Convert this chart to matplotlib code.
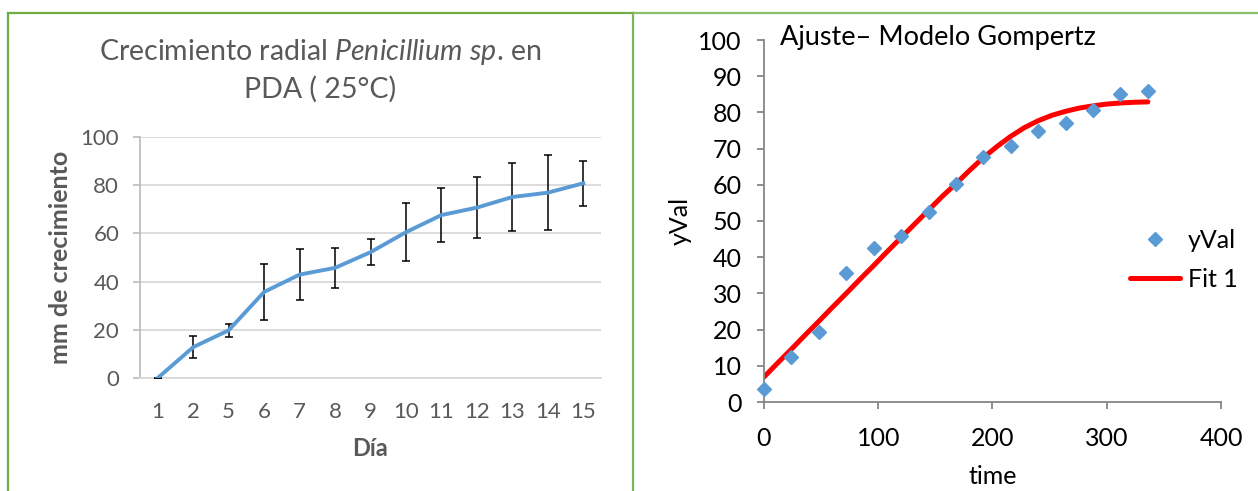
import matplotlib.pyplot as plt
from matplotlib.lines import Line2D

plt.rcParams["font.family"] = ["Lato", "DejaVu Sans"]
plt.rcParams["mathtext.fontset"] = "custom"
plt.rcParams["mathtext.rm"] = "Lato"
plt.rcParams["mathtext.it"] = "Lato:italic"

# radial growth per day (mean and std dev)
dias = ["1", "2", "5", "6", "7", "8", "9", "10", "11", "12", "13", "14", "15"]
crecimiento = [0, 12.8, 19.8, 35.7, 42.9, 45.7, 52.2, 60.5, 67.6, 70.7, 75.1, 76.9, 80.8]
desviacion = [0, 4.6, 2.6, 11.6, 10.6, 8.3, 5.5, 12.0, 11.1, 12.7, 14.2, 15.6, 9.3]

# observed values vs time (h)
time = [0, 24, 48, 72, 96, 120, 144, 168, 192, 216, 240, 264, 288, 312, 336]
yval = [3.7, 12.5, 19.4, 35.7, 42.6, 45.8, 52.4, 60.2, 67.7, 70.7, 75.0, 77.0, 80.8, 85.2, 86.0]

# Gompertz fit curve
fit_time = [0, 12, 24, 36, 48, 60, 72, 84, 96, 108, 120, 132, 144, 156, 168,
            180, 192, 204, 216, 228, 240, 252, 264, 276, 288, 300, 312, 324, 336]
fit_val = [6.9, 10.8, 14.6, 18.5, 22.3, 26.2, 30.0, 33.9, 37.7, 41.6, 45.4, 49.2,
           53.0, 56.8, 60.3, 64.0, 67.5, 70.6, 73.4, 75.8, 77.7, 79.2, 80.3, 81.2,
           81.8, 82.3, 82.6, 82.8, 82.9]

W, H = 1258, 491
GRAY = "#595959"
BLUE = "#5B9BD5"


def box(l, t, r, b):
    # pixel box (from top-left) -> figure fraction rect
    return [l / W, 1 - b / H, (r - l) / W, (b - t) / H]


fig = plt.figure(figsize=(W / 100, H / 100), dpi=100)

# ---- left: radial growth ----
ax1 = fig.add_axes(box(140, 137, 601, 378))
x = range(len(dias))
ax1.errorbar(x, crecimiento, yerr=desviacion, color=BLUE, lw=2.8,
             ecolor="black", elinewidth=1.1, capsize=3, capthick=1.1, zorder=3)
ax1.set_xlim(-0.5, len(dias) - 0.5)
ax1.set_ylim(0, 100)
ax1.set_yticks(range(0, 101, 20))
ax1.set_xticks(list(x))
ax1.set_xticklabels(dias)
ax1.grid(axis="y", color="#D9D9D9", lw=1.3)
ax1.set_axisbelow(True)
for s in ["top", "right"]:
    ax1.spines[s].set_visible(False)
ax1.spines["left"].set_color("#BFBFBF")
ax1.spines["bottom"].set_color("#D9D9D9")
ax1.spines["left"].set_linewidth(1.3)
ax1.spines["bottom"].set_linewidth(1.3)
ax1.tick_params(axis="y", length=5, color="#BFBFBF", width=1.3, pad=10,
                labelsize=16, labelcolor=GRAY)
ax1.tick_params(axis="x", length=0, pad=17, labelsize=16, labelcolor=GRAY)
ax1.set_xlabel("Día", fontsize=17, fontweight="bold", color=GRAY, va="center")
ax1.xaxis.set_label_coords(0.5, (378 - 448) / 241)
ax1.set_ylabel("mm de crecimiento", fontsize=18, fontweight="bold", color=GRAY,
               va="center", ha="center")
ax1.yaxis.set_label_coords((61 - 140) / 461, 0.5)

fig.text(320 / W, 1 - 52 / H, r"Crecimiento radial $\mathit{Penicillium\ sp}$. en",
         ha="center", va="center", fontsize=20.5, color=GRAY)
fig.text(320 / W, 1 - 89 / H, "PDA ( 25°C)", ha="center", va="center",
         fontsize=20.5, color=GRAY)

# ---- right: Gompertz fit ----
ax2 = fig.add_axes(box(764, 40, 1221, 402))
ax2.plot(time, yval, "D", color=BLUE, ms=7.5, ls="none", label="yVal",
         clip_on=False, zorder=3)
ax2.plot(fit_time, fit_val, color="#FF0000", lw=3.6, label="Fit 1",
         solid_capstyle="round", zorder=2)
ax2.set_xlim(0, 400)
ax2.set_ylim(0, 100)
ax2.set_xticks(range(0, 401, 100))
ax2.set_yticks(range(0, 101, 10))
for s in ["top", "right"]:
    ax2.spines[s].set_visible(False)
for s in ["left", "bottom"]:
    ax2.spines[s].set_color("#868686")
    ax2.spines[s].set_linewidth(1.3)
ax2.tick_params(axis="both", length=5, width=1.3, color="#868686",
                labelsize=18, labelcolor="black")
ax2.tick_params(axis="y", pad=11)
ax2.tick_params(axis="x", pad=13)
ax2.set_xlabel("time", fontsize=18, va="center")
ax2.xaxis.set_label_coords(0.5, (402 - 477) / 362)
ax2.set_ylabel("yVal", fontsize=18, va="center", ha="center")
ax2.yaxis.set_label_coords((680 - 764) / 457, 0.5)
ax2.text((780 - 764) / 457, 1 + 2 / 362, "Ajuste– Modelo Gompertz",
         transform=ax2.transAxes, ha="left", va="center", fontsize=19.5)

leg = ax2.legend(loc="center left", bbox_to_anchor=(1130 / W, 1 - 260 / H),
                 bbox_transform=fig.transFigure, frameon=False, fontsize=18,
                 handlelength=2.0, handletextpad=0.3, labelspacing=0.65,
                 borderpad=0, borderaxespad=0)

# ---- green frames ----
fig.add_artist(Line2D([8 / W, 633 / W], [1 - 13 / H] * 2, color="#70AD47", lw=1.6))
fig.add_artist(Line2D([633 / W, 1], [1 - 13 / H] * 2, color="#8CBF6A", lw=1.6))
fig.add_artist(Line2D([8 / W] * 2, [0, 1 - 13 / H], color="#70AD47", lw=1.6))
fig.add_artist(Line2D([633 / W] * 2, [0, 1 - 13 / H], color="#7DB65A", lw=1.6))

fig.savefig("out.png", dpi=100)
